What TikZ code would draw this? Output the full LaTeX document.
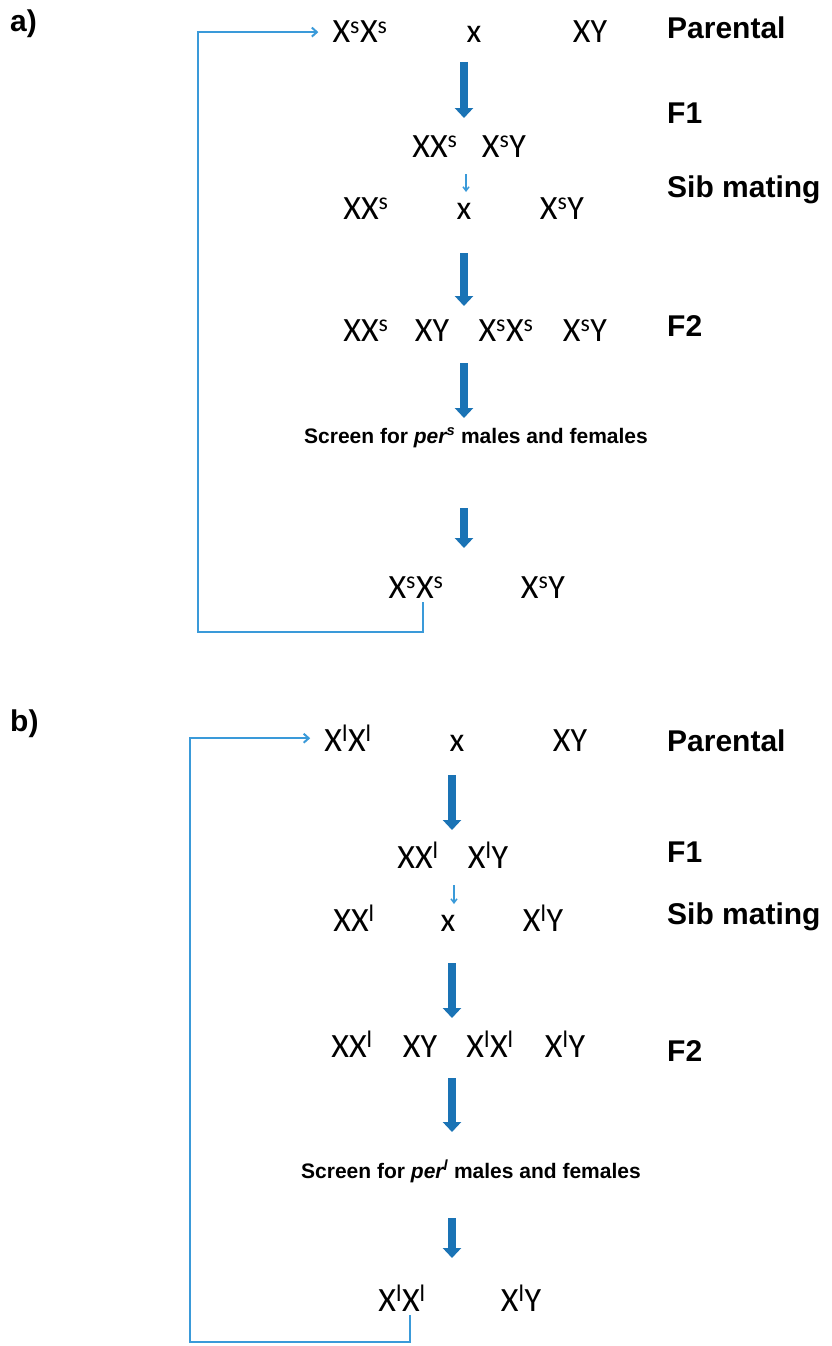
\documentclass[tikz,border=0pt]{standalone}
\usepackage{fontspec}
\setmainfont{Liberation Sans}
\newfontfamily\genofont{Carlito}
\usetikzlibrary{arrows.meta}
\definecolor{arrowblue}{RGB}{26,115,181}
\definecolor{loopblue}{RGB}{58,154,217}
\newcommand{\Xs}{X\textsuperscript{s}}
\newcommand{\Xl}{X\textsuperscript{l}}

\begin{document}
\begin{tikzpicture}[x=1pt,y=-1pt,
  geno/.style={font=\genofont\fontsize{34}{34}\selectfont, inner sep=0pt, anchor=base},
  stage/.style={font=\bfseries\fontsize{30}{30}\selectfont, inner sep=0pt, anchor=base west},
  screen/.style={font=\bfseries\fontsize{21}{21}\selectfont, inner sep=0pt, anchor=base},
  bigarrow/.style={draw=arrowblue, line width=8pt, -{Triangle[width=18pt,length=10pt]}},
  smallarrow/.style={draw=loopblue, line width=1.5pt, -{Straight Barb[width=6pt,length=4pt]}},
  loopline/.style={draw=loopblue, line width=2pt, -{Straight Barb[width=9pt,length=5pt]}}]
  \useasboundingbox (0,0) rectangle (832,1346);

  % panel a
  \node[stage] (aTag) at (10,32) {a)};
  \node[stage] (aParLab) at (667,39) {Parental};
  \node[stage] (aF1Lab) at (667,123) {F1};
  \node[stage] (aSibLab) at (667,197) {Sib mating};
  \node[stage] (aF2Lab) at (667,336) {F2};

  \node[geno] (aParSS) at (360,43) {\Xs\Xs};
  \node[geno] (aParX) at (474,43) {x};
  \node[geno] (aParXY) at (590,43) {XY};
  \node[geno] (aF1A) at (435,157) {X\Xs};
  \node[geno] (aF1B) at (504,157) {\Xs Y};
  \node[geno] (aSibA) at (366,219) {X\Xs};
  \node[geno] (aSibX) at (464,219) {x};
  \node[geno] (aSibB) at (562,219) {\Xs Y};
  \node[geno] (aF2A) at (366,341) {X\Xs};
  \node[geno] (aF2B) at (432,341) {XY};
  \node[geno] (aF2C) at (506,341) {\Xs\Xs};
  \node[geno] (aF2D) at (585,341) {\Xs Y};
  \node[screen] (aScreen) at (476,443) {Screen for \textit{per\textsuperscript{s}} males and females};
  \node[geno] (aFinSS) at (416,598) {\Xs\Xs};
  \node[geno] (aFinY) at (543,598) {\Xs Y};

  \coordinate (aA1s) at (464,62);  \coordinate (aA1e) at (464,118);
  \coordinate (aA2s) at (466,174); \coordinate (aA2e) at (466,192);
  \coordinate (aA3s) at (464,253); \coordinate (aA3e) at (464,306);
  \coordinate (aA4s) at (464,363); \coordinate (aA4e) at (464,418);
  \coordinate (aA5s) at (464,508); \coordinate (aA5e) at (464,548);
  \draw[bigarrow] (aA1s) -- (aA1e);
  \draw[smallarrow] (aA2s) -- (aA2e);
  \draw[bigarrow] (aA3s) -- (aA3e);
  \draw[bigarrow] (aA4s) -- (aA4e);
  \draw[bigarrow] (aA5s) -- (aA5e);

  \coordinate (aCorner) at (198,632);
  \draw[loopline] ([xshift=7pt,yshift=-4pt]aFinSS.south) |- (aCorner) |- ([xshift=-14pt]aParSS.west);

  % panel b
  \node[stage] (bTag) at (10,731) {b)};
  \node[stage] (bParLab) at (667,751) {Parental};
  \node[stage] (bF1Lab) at (667,862) {F1};
  \node[stage] (bSibLab) at (667,924) {Sib mating};
  \node[stage] (bF2Lab) at (667,1061) {F2};

  \node[geno] (bParLL) at (348,751) {\Xl\Xl};
  \node[geno] (bParX) at (457,751) {x};
  \node[geno] (bParXY) at (570,751) {XY};
  \node[geno] (bF1A) at (418,868) {X\Xl};
  \node[geno] (bF1B) at (488,868) {\Xl Y};
  \node[geno] (bSibA) at (354,931) {X\Xl};
  \node[geno] (bSibX) at (448,931) {x};
  \node[geno] (bSibB) at (543,931) {\Xl Y};
  \node[geno] (bF2A) at (352,1057) {X\Xl};
  \node[geno] (bF2B) at (420,1057) {XY};
  \node[geno] (bF2C) at (490,1057) {\Xl\Xl};
  \node[geno] (bF2D) at (565,1057) {\Xl Y};
  \node[screen] (bScreen) at (471,1178) {Screen for \textit{per\textsuperscript{l}} males and females};
  \node[geno] (bFinLL) at (402,1311) {\Xl\Xl};
  \node[geno] (bFinY) at (521,1311) {\Xl Y};

  \coordinate (bA1s) at (452,775);  \coordinate (bA1e) at (452,830);
  \coordinate (bA2s) at (454,885);  \coordinate (bA2e) at (454,904);
  \coordinate (bA3s) at (452,963);  \coordinate (bA3e) at (452,1018);
  \coordinate (bA4s) at (452,1078); \coordinate (bA4e) at (452,1132);
  \coordinate (bA5s) at (452,1218); \coordinate (bA5e) at (452,1258);
  \draw[bigarrow] (bA1s) -- (bA1e);
  \draw[smallarrow] (bA2s) -- (bA2e);
  \draw[bigarrow] (bA3s) -- (bA3e);
  \draw[bigarrow] (bA4s) -- (bA4e);
  \draw[bigarrow] (bA5s) -- (bA5e);

  \coordinate (bCorner) at (190,1342);
  \draw[loopline] ([xshift=8pt,yshift=-4pt]bFinLL.south) |- (bCorner) |- ([xshift=-14pt]bParLL.west);
\end{tikzpicture}
\end{document}
